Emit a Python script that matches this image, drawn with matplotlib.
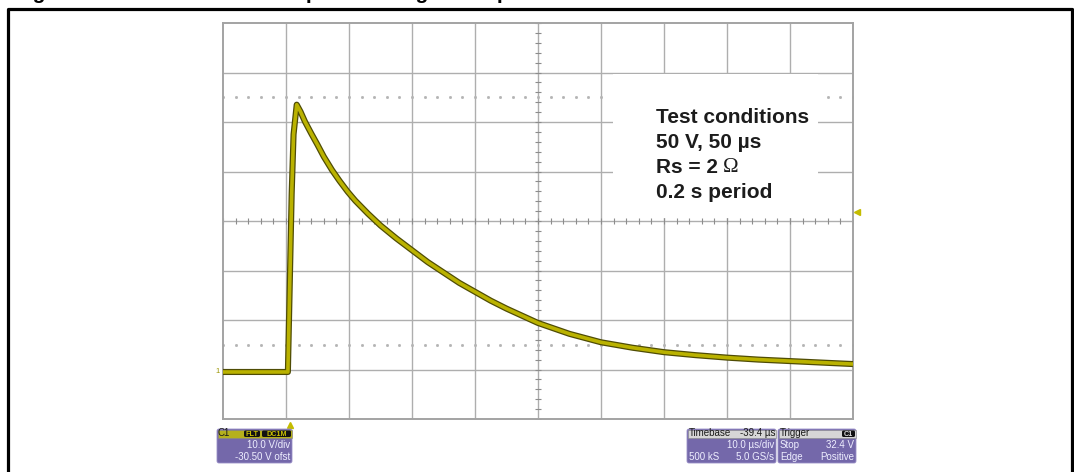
import numpy as np
import matplotlib.pyplot as plt
from matplotlib.patches import Rectangle, FancyBboxPatch

plt.rcParams['font.family'] = ['Liberation Sans', 'DejaVu Sans']

# scope trace: time from left edge of screen (us), volts
time_us = [0, 4, 8, 10.3, 10.6, 10.9, 11.2, 11.7, 12.3, 13, 14, 15, 16, 17.3,
           18.5, 19.8, 21, 23, 25, 27.5, 30, 32.5, 35, 37.5, 40, 42.5, 45,
           50, 55, 60, 65, 70, 75, 80, 85, 90, 95, 100]
volts = [0, 0, 0, 0, 18, 36, 48, 54, 52.6, 50.6, 48.2, 45.9, 43.5, 40.8,
         38.6, 36.4, 34.6, 32.0, 29.6, 27.0, 24.6, 22.2, 20.1, 18.0, 16.2, 14.4, 12.8,
         9.9, 7.7, 6.0, 4.9, 4.0, 3.4, 2.9, 2.5, 2.2, 1.9, 1.6]

volts_per_div = 10.0
offset_v = 30.5
us_per_div = 10.0
trig_level = 32.4
trig_time = 50 - 39.4

title = "Figure 10. TVS behavior with pulse voltage for a period"
conditions = ["Test conditions", "50 V, 50 µs", "Rs = 2", "0.2 s period"]

W, H = 1074, 472
fig = plt.figure(figsize=(W / 100, H / 100), dpi=100)
fig.patch.set_facecolor('white')

# scope screen
ax = fig.add_axes([223 / W, 53 / H, 630 / W, 396 / H])
ax.set_xlim(0, 10 * us_per_div)
ax.set_ylim(offset_v - 4 * volts_per_div, offset_v + 4 * volts_per_div)
ax.set_xticks([])
ax.set_yticks([])
for s in ax.spines.values():
    s.set_color('#a3a3a3')
    s.set_linewidth(1.4)

grid_c = '#aeaeae'
for i in range(1, 10):
    ax.axvline(i * us_per_div, color=grid_c, lw=1.0, zorder=1)
for j in range(1, 8):
    ax.axhline(offset_v - 4 * volts_per_div + j * volts_per_div, color=grid_c, lw=1.0, zorder=1)

# minor ticks on the centre cross
xs = np.arange(0, 100.1, us_per_div / 5)
ys = np.arange(offset_v - 40, offset_v + 40.1, volts_per_div / 5)
ax.plot(xs, np.full(len(xs), offset_v), ls='none', marker='|', ms=4, mew=0.8, color='#8c8c8c', zorder=2)
ax.plot(np.full(len(ys), 50), ys, ls='none', marker='_', ms=4, mew=0.8, color='#8c8c8c', zorder=2)

# dotted cursor lines
for yc in (offset_v + 2.5 * volts_per_div, offset_v - 2.5 * volts_per_div):
    ax.plot(xs, np.full(len(xs), yc), ls='none', marker='s', ms=1.0, color='#b4b4b4', zorder=2)

# trace
ax.plot(time_us, volts, color='#4f4c05', lw=4.4, solid_joinstyle='round', solid_capstyle='butt', zorder=4)
ax.plot(time_us, volts, color='#bab200', lw=2.6, solid_joinstyle='round', solid_capstyle='butt', zorder=5)

# markers at screen edges
ax.plot(trig_time, -0.015, marker='^', ms=5, color='#c4bc00', transform=ax.get_xaxis_transform(), clip_on=False)
ax.plot(1.006, trig_level, marker='<', ms=4, color='#c4bc00', transform=ax.get_yaxis_transform(), clip_on=False)
ax.text(-0.008, 0, '1', fontsize=5.5, color='#9a9400', ha='center', va='center',
        transform=ax.get_yaxis_transform(), clip_on=False)

# overlay in pixel coordinates
ov = fig.add_axes([0, 0, 1, 1])
ov.set_xlim(0, W)
ov.set_ylim(H, 0)
ov.axis('off')
ov.patch.set_alpha(0)

ov.plot([8, 8, 1072, 1072], [H + 5, 8.5, 8.5, H + 5], color='black', lw=2.3, clip_on=False)
# figure caption, cut off at the top of the picture like in the source
ov.text(14, -1.2, title, fontsize=15, weight='bold', va='baseline', ha='left', clip_on=False)

# test conditions box
ov.add_patch(Rectangle((613, 74), 205, 144, fc='white', ec='none', zorder=3))
for k, line in enumerate(conditions):
    t = ov.text(656, 123 + 25 * k, line, fontsize=15, weight='bold', va='baseline', color='#1c1c1c', zorder=4)
    if line.startswith('Rs'):
        ov.annotate('Ω', xy=(1, 0), xycoords=t, xytext=(3.5, 0), textcoords='offset points',
                    fontsize=15, family='Liberation Serif', va='bottom', color='#1c1c1c', zorder=4)

# status panels
purple = '#7468aa'
light = '#eeeeff'
small = 7


def panel(x0, x1, head_color):
    ov.add_patch(FancyBboxPatch((x0, 429), x1 - x0, 34, boxstyle='round,pad=0,rounding_size=2',
                                fc=purple, ec='#9a90c8', lw=0.6))
    ov.add_patch(Rectangle((x0 + 0.5, 429.5), x1 - x0 - 1, 8, fc=head_color, ec='#888888', lw=0.4))


def tag(x0, x1, txt, color):
    ov.add_patch(FancyBboxPatch((x0, 430.5), x1 - x0, 6.5, boxstyle='round,pad=0,rounding_size=1.5',
                                fc='#111111', ec='none'))
    ov.text((x0 + x1) / 2, 436.2, txt, fontsize=5.2, color=color, ha='center', va='baseline', weight='bold')


panel(217, 292, '#b5b01c')
ov.text(218, 436.5, 'C1', fontsize=small, color='#1a1a1a', va='baseline')
tag(244, 260, 'FLT', '#c8c000')
tag(262, 291, 'DC1M', '#c8c000')
ov.text(290, 448.5, '10.0 V/div', fontsize=small, color=light, ha='right', va='baseline')
ov.text(290, 459.5, '-30.50 V ofst', fontsize=small, color=light, ha='right', va='baseline')

panel(687, 776, '#d6d6d6')
ov.text(689, 436.5, 'Timebase', fontsize=small, color='#1a1a1a', va='baseline')
ov.text(775, 436.5, '-39.4 µs', fontsize=small, color='#1a1a1a', va='baseline', ha='right')
ov.text(774, 448.5, '10.0 µs/div', fontsize=small, color=light, ha='right', va='baseline')
ov.text(689, 459.5, '500 kS', fontsize=small, color=light, va='baseline')
ov.text(774, 459.5, '5.0 GS/s', fontsize=small, color=light, ha='right', va='baseline')

panel(778, 856, '#d6d6d6')
ov.text(780, 436.5, 'Trigger', fontsize=small, color='#1a1a1a', va='baseline')
tag(842, 855, 'C1', '#dddddd')
ov.text(780, 448.5, 'Stop', fontsize=small, color=light, va='baseline')
ov.text(854, 448.5, '32.4 V', fontsize=small, color=light, ha='right', va='baseline')
ov.text(780, 459.5, 'Edge', fontsize=small, color=light, va='baseline')
ov.text(854, 459.5, 'Positive', fontsize=small, color=light, ha='right', va='baseline')

fig.savefig('out.png', dpi=100)
